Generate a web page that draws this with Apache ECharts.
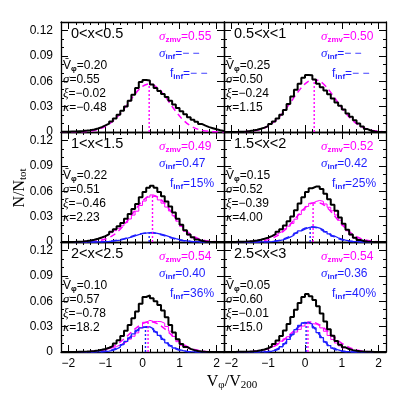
<!DOCTYPE html>
<html>
<head>
<meta charset="utf-8">
<script src="https://cdn.jsdelivr.net/npm/echarts@6.0.0/dist/echarts.min.js"></script>
<style>
html, body { margin: 0; padding: 0; background: #fff; }
#chart { width: 395px; height: 395px; }
</style>
</head>
<body>
<div id="chart"></div>
<script>
// bin edges of the histograms and x points of the fitted curves
const binEdges = [-2.2,-2.1,-2.0,-1.9,-1.8,-1.7,-1.6,-1.5,-1.4,-1.3,-1.2,-1.1,-1.0,-0.9,-0.8,-0.7,-0.6,-0.5,-0.4,-0.3,-0.2,-0.1,0,0.1,0.2,0.3,0.4,0.5,0.6,0.7,0.8,0.9,1.0,1.1,1.2,1.3,1.4,1.5,1.6,1.7,1.8,1.9,2.0,2.1,2.2];
const fitX = [-2.2,-2.0,-1.8,-1.6,-1.4,-1.2,-1.0,-0.8,-0.6,-0.4,-0.2,0,0.2,0.4,0.6,0.8,1.0,1.2,1.4,1.6,1.8,2.0,2.2];

// total histograms (black)
const total1 = [0.0002,0.0003,0.0005,0.0007,0.0010,0.0013,0.0017,0.0022,0.0030,0.0042,0.0058,0.0078,0.0100,0.0125,0.0160,0.0205,0.0250,0.0300,0.0370,0.0440,0.0520,0.0590,0.0615,0.0610,0.0560,0.0520,0.0485,0.0450,0.0415,0.0370,0.0325,0.0285,0.0245,0.0210,0.0175,0.0145,0.0120,0.0095,0.0075,0.0058,0.0045,0.0032,0.0020,0.0012];
const total2 = [0,0,0.0001,0.0002,0.0004,0.0007,0.0012,0.0018,0.0027,0.0038,0.0052,0.0070,0.0095,0.0125,0.0160,0.0205,0.0260,0.0330,0.0420,0.0500,0.0570,0.0640,0.0675,0.0670,0.0620,0.0570,0.0530,0.0490,0.0445,0.0395,0.0350,0.0310,0.0265,0.0220,0.0180,0.0140,0.0100,0.0065,0.0035,0.0015,0.0006,0.0002,0,0];
const total3 = [0,0,0.0001,0.0002,0.0004,0.0007,0.0011,0.0017,0.0026,0.0038,0.0053,0.0070,0.0092,0.0120,0.0150,0.0185,0.0225,0.0275,0.0330,0.0390,0.0450,0.0530,0.0590,0.0640,0.0665,0.0640,0.0590,0.0540,0.0480,0.0420,0.0350,0.0275,0.0205,0.0140,0.0090,0.0055,0.0030,0.0015,0.0007,0.0003,0.0001,0,0,0];
const total4 = [0,0,0.0001,0.0002,0.0003,0.0005,0.0008,0.0012,0.0018,0.0027,0.0038,0.0052,0.0070,0.0092,0.0120,0.0152,0.0195,0.0245,0.0300,0.0375,0.0455,0.0530,0.0590,0.0635,0.0655,0.0655,0.0625,0.0570,0.0505,0.0440,0.0370,0.0290,0.0215,0.0145,0.0090,0.0050,0.0025,0.0012,0.0005,0.0002,0.0001,0,0,0];
const total5 = [0,0,0.0001,0.0001,0.0002,0.0003,0.0005,0.0008,0.0012,0.0018,0.0026,0.0036,0.0050,0.0070,0.0100,0.0140,0.0190,0.0250,0.0320,0.0400,0.0480,0.0570,0.0650,0.0670,0.0635,0.0600,0.0555,0.0490,0.0410,0.0320,0.0230,0.0150,0.0095,0.0060,0.0037,0.0022,0.0012,0.0006,0.0003,0.0001,0.0001,0,0,0];
const total6 = [0,0.0001,0.0001,0.0002,0.0003,0.0004,0.0006,0.0009,0.0013,0.0020,0.0030,0.0045,0.0065,0.0095,0.0135,0.0190,0.0255,0.0330,0.0415,0.0500,0.0580,0.0650,0.0685,0.0660,0.0615,0.0540,0.0455,0.0360,0.0270,0.0192,0.0130,0.0085,0.0055,0.0035,0.0022,0.0014,0.0009,0.0005,0.0003,0.0002,0.0001,0.0001,0,0];

// zmv component histograms (magenta)
const zmvHist3 = [0,0,0.0001,0.0002,0.0004,0.0007,0.0011,0.0017,0.0026,0.0037,0.0051,0.0066,0.0086,0.0110,0.0134,0.0162,0.0192,0.0230,0.0272,0.0318,0.0364,0.0432,0.0484,0.0530,0.0556,0.0537,0.0497,0.0459,0.0413,0.0367,0.0310,0.0246,0.0185,0.0127,0.0082,0.0050,0.0027,0.0014,0.0007,0.0003,0.0001,0,0,0];
const zmvHist4 = [0,0,0.0001,0.0002,0.0003,0.0005,0.0008,0.0012,0.0018,0.0026,0.0037,0.0050,0.0065,0.0083,0.0105,0.0127,0.0156,0.0187,0.0220,0.0270,0.0324,0.0377,0.0420,0.0457,0.0479,0.0491,0.0480,0.0449,0.0410,0.0369,0.0320,0.0257,0.0194,0.0133,0.0083,0.0046,0.0023,0.0011,0.0005,0.0002,0.0001,0,0,0];
const zmvHist5 = [0,0,0.0001,0.0001,0.0002,0.0003,0.0005,0.0008,0.0011,0.0017,0.0023,0.0030,0.0039,0.0050,0.0065,0.0083,0.0103,0.0125,0.0152,0.0186,0.0226,0.0285,0.0351,0.0374,0.0361,0.0361,0.0359,0.0340,0.0301,0.0246,0.0183,0.0122,0.0079,0.0052,0.0033,0.0020,0.0011,0.0006,0.0003,0.0001,0.0001,0,0,0];
const zmvHist6 = [0,0.0001,0.0001,0.0002,0.0003,0.0004,0.0006,0.0009,0.0013,0.0019,0.0028,0.0041,0.0056,0.0076,0.0100,0.0128,0.0155,0.0181,0.0209,0.0236,0.0267,0.0307,0.0335,0.0335,0.0330,0.0312,0.0285,0.0245,0.0195,0.0148,0.0106,0.0073,0.0049,0.0032,0.0021,0.0014,0.0009,0.0005,0.0003,0.0002,0.0001,0.0001,0,0];

// inflow component histograms (blue)
const infHist3 = [0,0,0,0,0,0,0,0,0,0,0,0.0004,0.0006,0.0010,0.0016,0.0023,0.0033,0.0045,0.0058,0.0072,0.0086,0.0098,0.0104,0.0110,0.0112,0.0103,0.0093,0.0081,0.0067,0.0053,0.0040,0.0029,0.0020,0.0013,0.0008,0.0005,0.0003,0.0001,0,0,0,0,0,0];
const infHist4 = [0,0,0,0,0,0,0,0,0,0.0001,0.0001,0.0002,0.0005,0.0009,0.0015,0.0025,0.0039,0.0058,0.0080,0.0105,0.0131,0.0153,0.0170,0.0178,0.0176,0.0164,0.0145,0.0121,0.0095,0.0071,0.0050,0.0033,0.0021,0.0012,0.0007,0.0004,0.0002,0.0001,0,0,0,0,0,0];
const infHist5 = [0,0,0,0,0,0,0,0,0.0001,0.0001,0.0003,0.0006,0.0011,0.0020,0.0035,0.0057,0.0087,0.0125,0.0168,0.0214,0.0254,0.0285,0.0299,0.0296,0.0274,0.0239,0.0196,0.0150,0.0109,0.0074,0.0047,0.0028,0.0016,0.0008,0.0004,0.0002,0.0001,0,0,0,0,0,0,0];
const infHist6 = [0,0,0,0,0,0,0,0,0,0.0001,0.0002,0.0004,0.0009,0.0019,0.0035,0.0062,0.0100,0.0149,0.0206,0.0264,0.0313,0.0343,0.0350,0.0328,0.0285,0.0230,0.0171,0.0118,0.0076,0.0045,0.0024,0.0012,0.0006,0.0003,0.0001,0,0,0,0,0,0,0,0,0];

// fitted curves (dashed), sampled at fitX
const zmvFit1 = [0,0,0.0001,0.0003,0.0010,0.0030,0.0068,0.0128,0.0215,0.0330,0.0449,0.0540,0.0570,0.0526,0.0426,0.0302,0.0188,0.0102,0.0049,0.0020,0.0007,0.0002,0.0001];
const zmvFit2 = [0,0.0001,0.0002,0.0005,0.0014,0.0033,0.0071,0.0134,0.0227,0.0345,0.0468,0.0569,0.0619,0.0601,0.0523,0.0407,0.0284,0.0177,0.0099,0.0049,0.0022,0.0009,0.0003];
const zmvFit3 = [0,0,0,0.0001,0.0005,0.0014,0.0035,0.0077,0.0150,0.0255,0.0377,0.0485,0.0545,0.0534,0.0456,0.0340,0.0220,0.0125,0.0062,0.0026,0.0010,0.0003,0.0001];
const zmvFit4 = [0,0,0,0.0001,0.0004,0.0011,0.0028,0.0063,0.0122,0.0208,0.0310,0.0405,0.0462,0.0462,0.0405,0.0310,0.0208,0.0122,0.0063,0.0028,0.0011,0.0004,0.0001];
const zmvFit5 = [0,0,0,0.0001,0.0004,0.0012,0.0030,0.0065,0.0120,0.0194,0.0274,0.0336,0.0360,0.0336,0.0274,0.0194,0.0120,0.0065,0.0030,0.0012,0.0004,0.0001,0];
const zmvFit6 = [0,0,0.0001,0.0002,0.0006,0.0016,0.0037,0.0076,0.0135,0.0211,0.0288,0.0342,0.0354,0.0319,0.0251,0.0172,0.0103,0.0054,0.0024,0.0010,0.0003,0.0001,0];
const infFit3 = [0,0,0,0,0,0.0001,0.0005,0.0013,0.0028,0.0051,0.0079,0.0102,0.0110,0.0099,0.0074,0.0046,0.0024,0.0010,0.0004,0.0001,0,0,0];
const infFit4 = [0,0,0,0,0,0.0001,0.0003,0.0012,0.0032,0.0069,0.0118,0.0162,0.0178,0.0155,0.0108,0.0060,0.0026,0.0009,0.0003,0.0001,0,0,0];
const infFit5 = [0,0,0,0,0,0.0002,0.0008,0.0027,0.0071,0.0146,0.0235,0.0294,0.0287,0.0218,0.0129,0.0059,0.0021,0.0006,0.0001,0,0,0,0];
const infFit6 = [0,0,0,0,0,0.0001,0.0006,0.0026,0.0079,0.0177,0.0290,0.0350,0.0309,0.0200,0.0095,0.0033,0.0009,0.0002,0,0,0,0,0];

// dotted mean markers
const zmvMarkX = [0.18, 0.25, 0.27, 0.22, 0.15, 0.08];
const zmvMarkTop = [0.056, 0.061, 0.055, 0.047, 0.036, 0.035];
const infMarkX = [null, null, 0.18, 0.14, 0.08, 0.03];
const infMarkTop = [null, null, 0.011, 0.018, 0.029, 0.035];

// panel texts
const rangeLabels = ['0<x<0.5', '0.5<x<1', '1<x<1.5', '1.5<x<2', '2<x<2.5', '2.5<x<3'];
const vMean = ['0.20', '0.25', '0.22', '0.15', '0.10', '0.05'];
const sigmaTot = ['0.55', '0.50', '0.51', '0.52', '0.57', '0.60'];
const xiVals = ['\u22120.02', '\u22120.24', '\u22120.46', '\u22120.39', '\u22120.78', '\u22120.01'];
const kappaVals = ['\u22120.48', '1.15', '2.23', '4.00', '18.2', '15.0'];
const sigmaZmv = ['0.55', '0.50', '0.49', '0.52', '0.54', '0.54'];
const sigmaInf = ['\u2212 \u2212', '\u2212 \u2212', '0.47', '0.42', '0.40', '0.36'];
const fInf = ['\u2212 \u2212', '\u2212 \u2212', '15%', '25%', '36%', '40%'];

const xTicks = [-2, -1, 0, 1, 2];
const yTicks = [0, 0.03, 0.06, 0.09, 0.12];

const totals = [total1, total2, total3, total4, total5, total6];
const zmvHists = [null, null, zmvHist3, zmvHist4, zmvHist5, zmvHist6];
const infHists = [null, null, infHist3, infHist4, infHist5, infHist6];
const zmvFits = [zmvFit1, zmvFit2, zmvFit3, zmvFit4, zmvFit5, zmvFit6];
const infFits = [null, null, infFit3, infFit4, infFit5, infFit6];

const MAG = '#ff00ff';
const BLUE = '#1f1fff';
const colLeft = [61, 224];
const colWidth = [163, 162];
const rowTop = [22, 132, 242];
const rowH = 110;
const sans = 'Liberation Sans';
const serif = 'Liberation Serif';

const chart = echarts.init(document.getElementById('chart'));

const grids = [], xAxes = [], yAxes = [], series = [], graphics = [];

function minus(v) { return v < 0 ? '\u2212' + (-v) : '' + v; }

function histData(vals) {
    return binEdges.map((e, i) => [e, vals[Math.min(i, vals.length - 1)]]);
}
function fitData(vals) {
    return fitX.map((x, i) => [x, vals[i]]);
}
function addLine(g, data, color, width, type, extra) {
    series.push(Object.assign({
        type: 'line', xAxisIndex: 4 * g, yAxisIndex: 4 * g, data: data,
        symbol: 'none', silent: true, animation: false, clip: true,
        lineStyle: { color: color, width: width, type: type },
        itemStyle: { color: color }
    }, extra || {}));
}
function richFor(color) {
    return {
        n: { fontSize: 12, fontFamily: sans, lineHeight: 14, fill: color, color: color },
        g: { fontSize: 13, fontFamily: serif, fontStyle: 'italic', lineHeight: 14, fill: color, color: color },
        s: { fontSize: 8, fontFamily: sans, fontWeight: 'bold', lineHeight: 5, verticalAlign: 'bottom', fill: color, color: color }
    };
}
function addText(x, y, text, color, rich, extra) {
    graphics.push({
        type: 'text', x: x, y: y, silent: true, z: 100,
        style: Object.assign({
            text: text, rich: rich, fill: color, align: 'left', verticalAlign: 'middle',
            font: '12px ' + sans
        }, extra || {})
    });
}

for (let g = 0; g < 6; g++) {
    const col = g % 2, row = Math.floor(g / 2);
    const L = colLeft[col], W = colWidth[col], T = rowTop[row];
    grids.push({ left: L, top: T, width: W, height: rowH, containLabel: false, outerBoundsMode: 'none' });

    const tickLine = { color: '#000', width: 1 };
    ['bottom', 'top'].forEach(pos => {
        xAxes.push({
            type: 'value', gridIndex: g, position: pos, min: -2.2, max: 2.2, interval: 0.2,
            axisLine: { show: true, onZero: false, lineStyle: { color: '#000', width: 1.3 } },
            axisTick: { show: true, inside: true, length: 3, lineStyle: tickLine },
            axisLabel: { show: false }, splitLine: { show: false }
        });
        xAxes.push({
            type: 'value', gridIndex: g, position: pos, min: -2.2, max: 2.2,
            axisLine: { show: false, onZero: false },
            axisTick: { show: true, inside: true, length: 7, customValues: xTicks, lineStyle: tickLine },
            axisLabel: {
                show: pos === 'bottom' && row === 2, customValues: xTicks, formatter: minus,
                margin: 6, fontSize: 12, fontFamily: sans, color: '#000'
            },
            splitLine: { show: false }
        });
    });
    ['left', 'right'].forEach(pos => {
        yAxes.push({
            type: 'value', gridIndex: g, position: pos, min: 0, max: 0.13, interval: 0.01,
            axisLine: { show: true, onZero: false, lineStyle: { color: '#000', width: 1.3 } },
            axisTick: { show: true, inside: true, length: 3, lineStyle: tickLine },
            axisLabel: { show: false }, splitLine: { show: false }
        });
        yAxes.push({
            type: 'value', gridIndex: g, position: pos, min: 0, max: 0.13,
            axisLine: { show: false, onZero: false },
            axisTick: { show: true, inside: true, length: 7, customValues: yTicks, lineStyle: tickLine },
            axisLabel: {
                show: pos === 'left' && col === 0, customValues: yTicks,
                formatter: v => (v === 0 ? '0' : v.toFixed(2)),
                margin: 8, fontSize: 12, fontFamily: sans, color: '#000'
            },
            splitLine: { show: false }
        });
    });

    // curves
    addLine(g, fitData(zmvFits[g]), MAG, 1.5, [6, 4], { smooth: 0.3 });
    if (infFits[g]) addLine(g, fitData(infFits[g]), BLUE, 1.5, [6, 4], { smooth: 0.3 });
    if (zmvHists[g]) addLine(g, histData(zmvHists[g]), MAG, 1, 'solid', { step: 'end' });
    if (infHists[g]) addLine(g, histData(infHists[g]), BLUE, 1.3, 'solid', { step: 'end' });
    addLine(g, [[zmvMarkX[g], 0], [zmvMarkX[g], zmvMarkTop[g]]], MAG, 1.4, [2, 2], { z: 6 });
    if (infMarkX[g] != null) addLine(g, [[infMarkX[g], 0], [infMarkX[g], infMarkTop[g]]], BLUE, 1.4, [2, 2], { z: 6 });
    addLine(g, histData(totals[g]), '#000', 2, 'solid', { step: 'end', z: 5 });

    // texts
    const R = L + W;
    const rb = richFor('#000'), rm = richFor(MAG), rbl = richFor(BLUE);
    addText(L + 10, T + 12, rangeLabels[g], '#000', null, { font: '14.5px ' + sans });
    addText(L + 2, T + 44, '{n|V\u0304}{s|\u03c6}{n|=' + vMean[g] + '}', '#000', rb);
    addText(L + 2, T + 58, '{g|\u03c3}{n|=' + sigmaTot[g] + '}', '#000', rb);
    addText(L + 2, T + 72, '{g|\u03be}{n|=' + xiVals[g] + '}', '#000', rb);
    addText(L + 2, T + 86, '{g|\u03ba}{n|=' + kappaVals[g] + '}', '#000', rb);
    addText(R - 65, T + 15, '{g|\u03c3}{s|zmv}{n|=' + sigmaZmv[g] + '}', MAG, rm);
    addText(R - 65, T + 32, '{g|\u03c3}{s|inf}{n|=' + sigmaInf[g] + '}', BLUE, rbl);
    addText(R - 54, T + 52, '{n|f}{s|inf}{n|=' + fInf[g] + '}', BLUE, rbl);
}

// axis titles
const titleRich = {
    t: { fontSize: 16, fontFamily: serif, lineHeight: 18, fill: '#000' },
    u: { fontSize: 11, fontFamily: serif, lineHeight: 7, verticalAlign: 'bottom', fill: '#000' }
};
graphics.push({
    type: 'text', x: 20, y: 188, rotation: Math.PI / 2, silent: true,
    style: { text: '{t|N/N}{u|tot}', rich: titleRich, align: 'center', verticalAlign: 'middle', fill: '#000' }
});
graphics.push({
    type: 'text', x: 232, y: 382, silent: true,
    style: { text: '{t|V}{u|\u03c6}{t|/V}{u|200}', rich: titleRich, align: 'center', verticalAlign: 'middle', fill: '#000' }
});

chart.setOption({
    animation: false,
    backgroundColor: '#fff',
    grid: grids,
    xAxis: xAxes,
    yAxis: yAxes,
    series: series,
    graphic: graphics
});
</script>
</body>
</html>
